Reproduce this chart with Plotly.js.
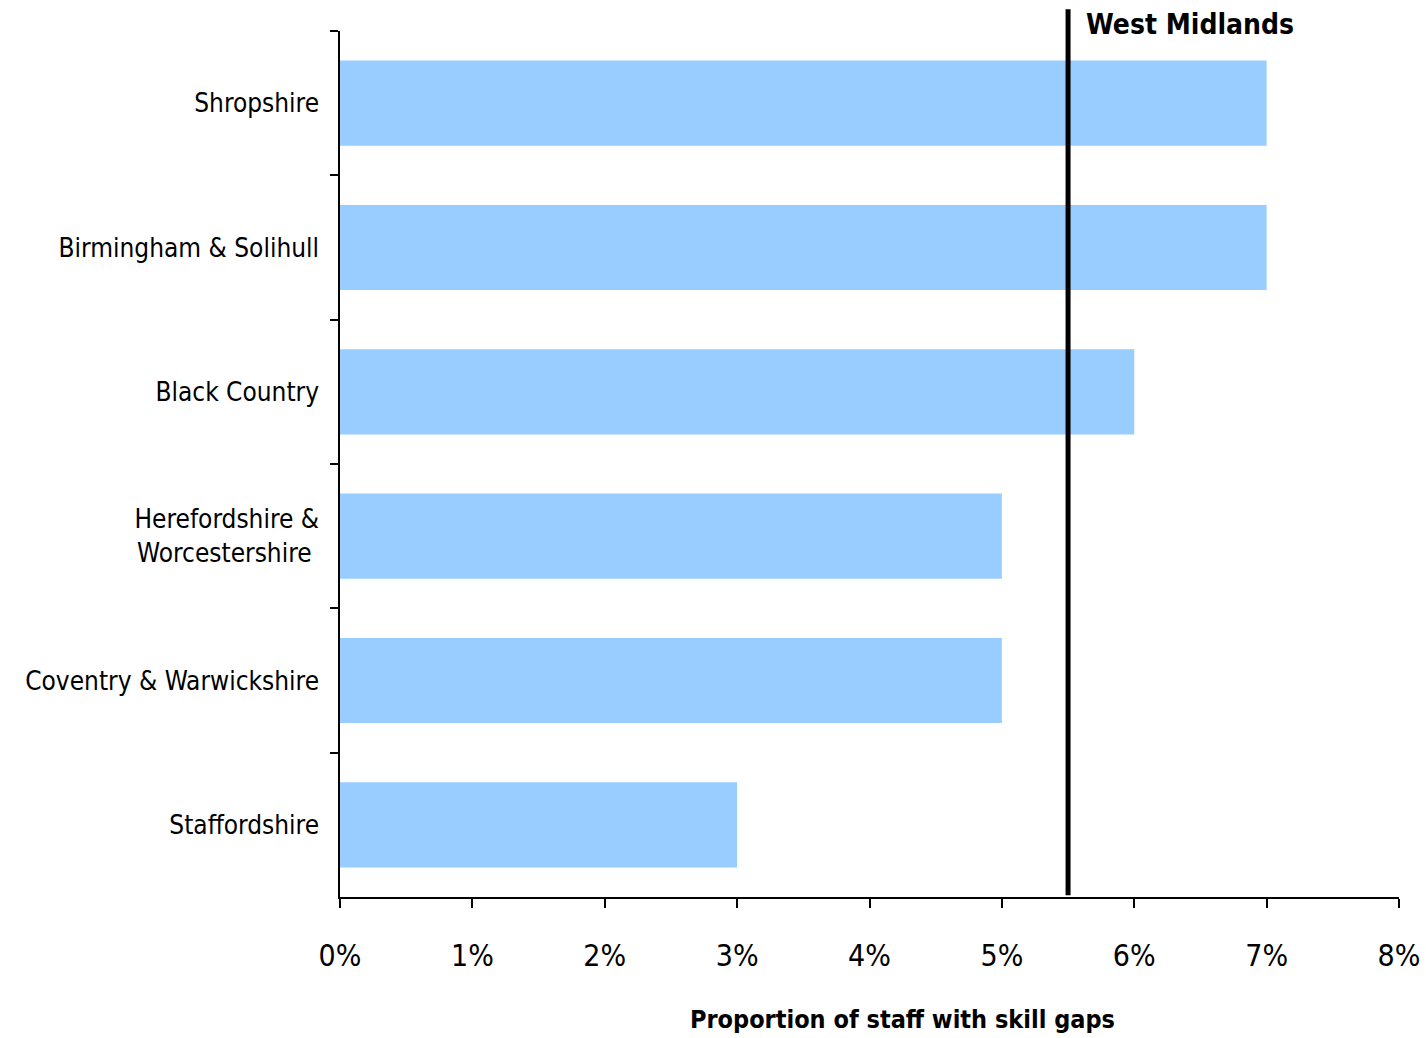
<!DOCTYPE html>
<html>
<head>
<meta charset="utf-8">
<script src="https://cdn.plot.ly/plotly-3.0.1.min.js"></script>
<style>html,body{margin:0;padding:0;background:#fff;}#chart{width:1426px;height:1038px;}</style>
</head>
<body>
<div id="chart"></div>
<script>
const regions = ["Shropshire", "Birmingham & Solihull", "Black Country", "Herefordshire &<br>Worcestershire ", "Coventry & Warwickshire", "Staffordshire"];
const skillGapPct = [7, 7, 6, 5, 5, 3];
const westMidlandsAvg = 5.5;
const westMidlandsLabel = "West Midlands";
const xTickVals = [0, 1, 2, 3, 4, 5, 6, 7, 8];
const xTickText = ["0%", "1%", "2%", "3%", "4%", "5%", "6%", "7%", "8%"];
const xTitle = "Proportion of staff with skill gaps";

const labelFont = "DejaVu Sans Condensed, Tahoma, sans-serif";

const data = [{
  type: "bar",
  orientation: "h",
  y: regions,
  x: skillGapPct,
  marker: {color: "#99ccff", line: {width: 0}},
  hoverinfo: "x+y"
}];

const layout = {
  width: 1426,
  height: 1038,
  margin: {l: 340, r: 27, t: 31, b: 141},
  paper_bgcolor: "#ffffff",
  plot_bgcolor: "#ffffff",
  showlegend: false,
  bargap: 0.41,
  font: {family: labelFont, color: "#000"},
  xaxis: {
    range: [0, 8],
    tickvals: xTickVals,
    ticktext: xTickText,
    ticks: "outside",
    ticklen: 9,
    tickwidth: 1.5,
    tickcolor: "#000",
    showline: true,
    linecolor: "#000",
    linewidth: 1.5,
    showgrid: false,
    zeroline: false,
    ticklabelstandoff: 22,
    tickfont: {family: labelFont, size: 30, color: "#000"}
  },
  yaxis: {
    type: "category",
    autorange: "reversed",
    tickson: "boundaries",
    ticks: "outside",
    ticklen: 8,
    tickwidth: 1.5,
    tickcolor: "#000",
    showline: true,
    linecolor: "#000",
    linewidth: 1.5,
    showgrid: false,
    zeroline: false,
    ticklabelstandoff: 14,
    tickfont: {family: labelFont, size: 26, color: "#000"}
  },
  shapes: [{
    type: "line",
    xref: "x", yref: "paper",
    x0: westMidlandsAvg, x1: westMidlandsAvg,
    y0: 0.002, y1: 1.025,
    line: {color: "#000", width: 5}
  }],
  annotations: [{
    xref: "x", yref: "paper",
    x: westMidlandsAvg, y: 1.007,
    xanchor: "left", yanchor: "middle",
    xshift: 16,
    text: "<b>" + westMidlandsLabel + "</b>",
    showarrow: false,
    font: {family: labelFont, size: 28, color: "#000"}
  }, {
    xref: "paper", yref: "paper",
    x: 0.5307, y: -0.142,
    xanchor: "center", yanchor: "middle",
    text: "<b>" + xTitle + "</b>",
    showarrow: false,
    font: {family: labelFont, size: 25, color: "#000"}
  }]
};

Plotly.newPlot("chart", data, layout, {displayModeBar: false});
</script>
</body>
</html>
